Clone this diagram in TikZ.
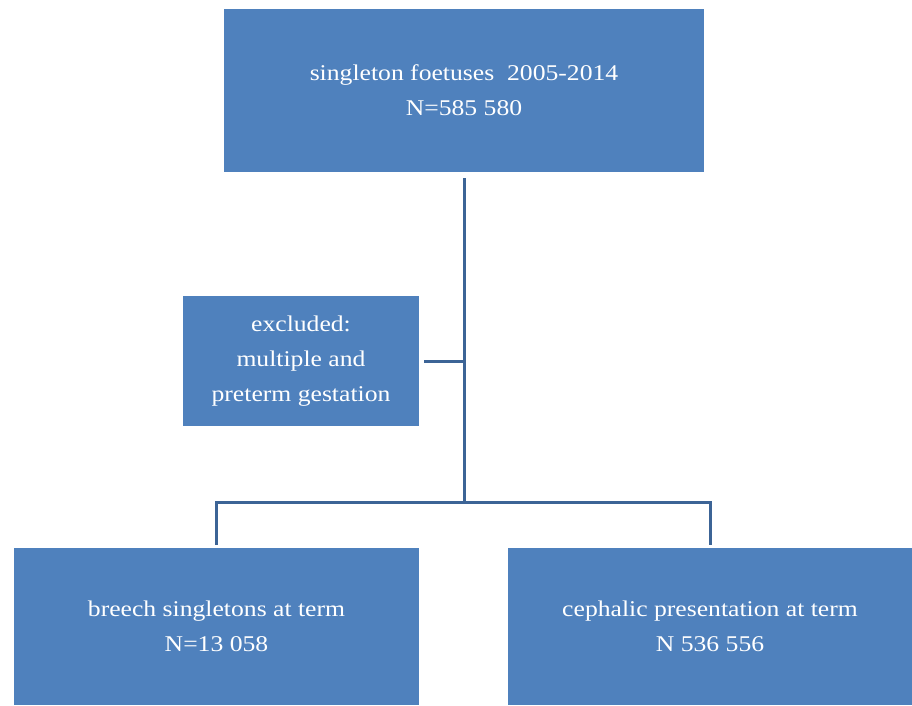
\documentclass[tikz,border=0pt]{standalone}
\usepackage{fontspec}
\setmainfont[FakeStretch=1.14]{Liberation Serif}
\definecolor{boxblue}{HTML}{4F81BD}
\definecolor{lineblue}{HTML}{3C6496}
\begin{document}
\begin{tikzpicture}
[x=1pt,y=-1pt,
  boxdecorate/.style={shape=rectangle,fill=boxblue,text=white,align=center,
    inner sep=0pt,font=\fontsize{22.5}{35}\selectfont},%
  linedecorate/.style={-,draw=lineblue,line width=3pt}]
\useasboundingbox (0,0) rectangle (912,705);
%% boxes
\node (top) at (464,90.5) [boxdecorate,minimum width=480,minimum height=163]
  {singleton foetuses\ \ 2005-2014\\N=585 580};
\node (excl) at (301,361) [boxdecorate,minimum width=236,minimum height=130]
  {excluded:\\multiple and\\preterm gestation};
\node (breech) at (216.5,626.5) [boxdecorate,minimum width=405,minimum height=157]
  {breech singletons at term\\N=13 058};
\node (cephalic) at (710,626.5) [boxdecorate,minimum width=404,minimum height=157]
  {cephalic presentation at term\\N 536 556};
%% split point
\coordinate (split) at (464,502);
%% lines
\draw[linedecorate,shorten <=6pt] (top.south) -- (split);
\draw[linedecorate,shorten <=5pt] (excl.east) -- (excl.east -| split);
\draw[linedecorate,shorten <=3pt,shorten >=3pt]
  (breech.north) -- (breech.north |- split) -- (cephalic.north |- split) -- (cephalic.north);
\end{tikzpicture}
\end{document}
